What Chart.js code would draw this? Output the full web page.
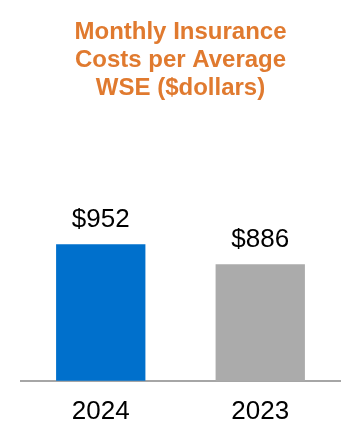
<!DOCTYPE html>
<html>
<head>
<meta charset="utf-8">
<script src="https://cdn.jsdelivr.net/npm/chart.js@4/dist/chart.umd.min.js"></script>
<style>
  html, body { margin: 0; padding: 0; background: #fff; }
  #wrap { width: 360px; height: 448px; position: relative; }
</style>
</head>
<body>
<div id="wrap"><canvas id="costChart"></canvas></div>
<script>
const years = ['2024', '2023'];
const costs = [952, 886];
const barColors = ['#0070CC', '#ABABAB'];
const titleLines = ['Monthly Insurance', 'Costs per Average', 'WSE ($dollars)'];

// draws the "$952" style labels above each bar
const valueLabels = {
    id: 'valueLabels',
    afterDatasetsDraw(chart) {
        const ctx = chart.ctx;
        const meta = chart.getDatasetMeta(0);
        ctx.save();
        ctx.font = '26px "Liberation Sans", Arial, sans-serif';
        ctx.fillStyle = '#000';
        ctx.textAlign = 'center';
        ctx.textBaseline = 'alphabetic';
        meta.data.forEach((bar, i) => {
            ctx.fillText('$' + costs[i], bar.x, bar.y - 17);
        });
        ctx.restore();
    }
};

new Chart(document.getElementById('costChart'), {
    type: 'bar',
    data: {
        labels: years,
        datasets: [{
            data: costs,
            backgroundColor: barColors,
            borderWidth: 0,
            barPercentage: 0.56,
            categoryPercentage: 1
        }]
    },
    options: {
        responsive: true,
        maintainAspectRatio: false,
        animation: false,
        layout: { padding: { left: 21, right: 20, top: 0, bottom: 6 } },
        plugins: {
            legend: { display: false },
            tooltip: { enabled: false },
            title: {
                display: true,
                text: titleLines,
                color: '#E07A2F',
                font: { family: '"Liberation Sans", Arial, sans-serif', size: 24, weight: 'bold', lineHeight: 28 / 24 },
                padding: { top: 18, bottom: 9 }
            }
        },
        scales: {
            y: {
                display: false,
                min: 500,
                max: 1393
            },
            x: {
                grid: { display: false, drawTicks: false },
                border: { display: true, color: '#A6A6A6', width: 2 },
                ticks: {
                    color: '#000',
                    padding: 15,
                    font: { family: '"Liberation Sans", Arial, sans-serif', size: 26 }
                }
            }
        }
    },
    plugins: [valueLabels]
});
</script>
</body>
</html>
